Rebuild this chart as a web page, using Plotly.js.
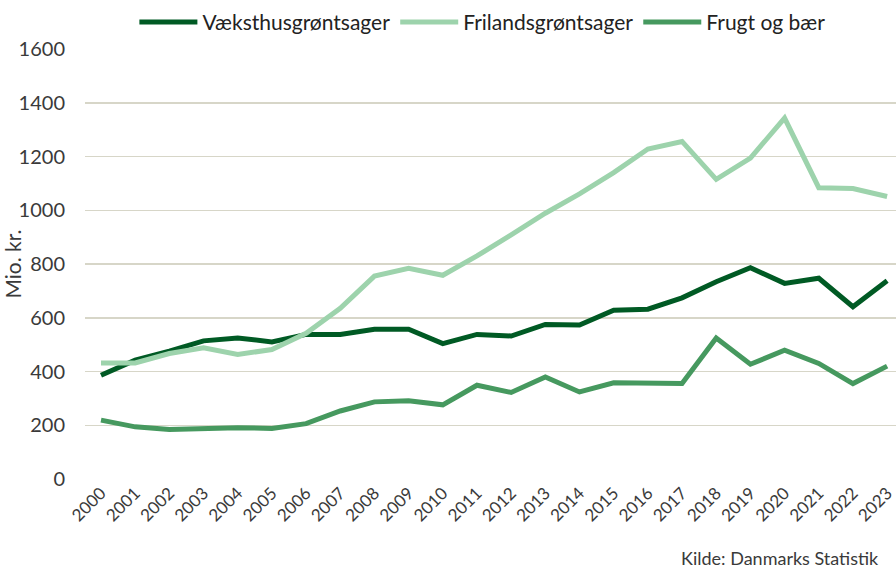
<!DOCTYPE html>
<html>
<head>
<meta charset="utf-8">
<script src="https://cdn.plot.ly/plotly-3.0.1.min.js"></script>
<style>html,body{margin:0;padding:0;background:#fff;}#chart{width:896px;height:569px;}</style>
</head>
<body>
<div id="chart"></div>
<script>
const years = ["2000","2001","2002","2003","2004","2005","2006","2007","2008","2009","2010","2011","2012","2013","2014","2015","2016","2017","2018","2019","2020","2021","2022","2023"];
const vaeksthus = [386,442,476,514,525,510,538,538,557,557,504,538,532,575,573,628,632,674,734,786,728,747,641,738];
const frilands = [432,432,467,488,463,482,542,635,755,784,758,830,908,989,1061,1140,1228,1256,1115,1194,1343,1084,1081,1051];
const frugt = [219,194,184,189,191,188,206,253,287,291,276,349,322,380,324,358,355,355,525,427,479,430,355,420];
const yTicks = [0,200,400,600,800,1000,1200,1400,1600];

const FONT = 'Lato, "Open Sans", sans-serif';
const mk = (name, y, color) => ({
  x: years, y: y, name: name, type: 'scatter', mode: 'lines',
  line: {color: color, width: 5}
});
const data = [
  mk('Væksthusgrøntsager', vaeksthus, '#005a24'),
  mk('Frilandsgrøntsager', frilands, '#9dd3ac'),
  mk('Frugt og bær', frugt, '#46995f')
];
const layout = {
  width: 896, height: 569,
  margin: {l: 85, r: 0, t: 49, b: 90},
  paper_bgcolor: '#fff', plot_bgcolor: '#fff',
  font: {family: FONT, color: '#3a3a3a', size: 17},
  showlegend: true,
  legend: {orientation: 'h', x: 0.49, xanchor: 'center', y: 1.062, yanchor: 'middle',
           font: {size: 21, color: '#222'}, itemwidth: 58, tracegroupgap: 0},
  xaxis: {
    type: 'category', range: [-0.468, 23.26], showgrid: false, zeroline: false,
    showline: false, ticks: '', tickangle: -45, tickfont: {size: 17, color: '#3a3a3a'},
    tickvals: years, ticktext: years
  },
  yaxis: {
    range: [0, 1600], tickvals: yTicks, ticktext: yTicks.map(String),
    showgrid: true, gridcolor: '#d7d6c8', gridwidth: 1.5, zeroline: false, showline: false,
    ticks: 'outside', ticklen: 15, tickcolor: 'rgba(0,0,0,0)',
    tickfont: {size: 20, color: '#3a3a3a'},
    title: {text: 'Mio. kr.', font: {size: 21, color: '#3a3a3a'}, standoff: 6}
  },
  annotations: [{
    text: 'Kilde: Danmarks Statistik', xref: 'paper', yref: 'paper',
    x: 0.982, y: 0, xanchor: 'right', yanchor: 'middle', yshift: -79,
    showarrow: false, font: {size: 18, color: '#3a3a3a'}
  }]
};
Plotly.newPlot('chart', data, layout, {displayModeBar: false, staticPlot: true});
</script>
</body>
</html>
